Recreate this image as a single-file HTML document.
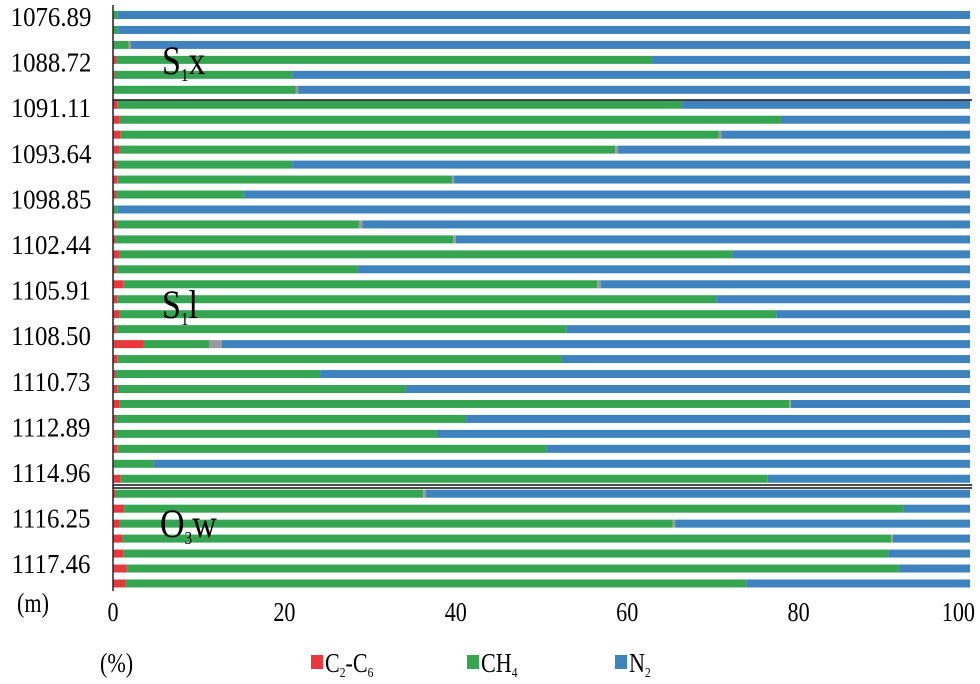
<!DOCTYPE html>
<html><head><meta charset="utf-8"><style>
body{margin:0;background:#fff;}
svg{display:block;font-family:"Liberation Serif",serif;}
</style></head><body>
<svg id="chart" width="980" height="684" viewBox="0 0 980 684" xmlns="http://www.w3.org/2000/svg">
<g id="bars"></g>
<g id="axes"></g>
<g font-family="Liberation Serif,serif">
<text transform="translate(17,612) scale(0.82,1)" font-size="27">(m)</text>
<text transform="translate(100,672) scale(0.82,1)" font-size="27">(%)</text>
<text transform="translate(162,74) scale(0.85,1)" font-size="40">S<tspan font-size="18" dy="7">1</tspan><tspan dy="-7">x</tspan></text>
<text transform="translate(162,318) scale(0.85,1)" font-size="40">S<tspan font-size="18" dy="7">1</tspan><tspan dy="-7">l</tspan></text>
<text transform="translate(160,537) scale(0.85,1)" font-size="40">O<tspan font-size="18" dy="7">3</tspan><tspan dy="-7">w</tspan></text>
<g font-size="27">
<rect x="311" y="655" width="12" height="14" fill="#e8383d"/>
<text transform="translate(325,672) scale(0.82,1)">C<tspan font-size="14" dy="5">2</tspan><tspan dy="-5">-C</tspan><tspan font-size="14" dy="5">6</tspan></text>
<rect x="467" y="655" width="12" height="14" fill="#36a552"/>
<text transform="translate(481,672) scale(0.82,1)">CH<tspan font-size="14" dy="5">4</tspan></text>
<rect x="615" y="655" width="12" height="14" fill="#3e82be"/>
<text transform="translate(629,672) scale(0.82,1)">N<tspan font-size="14" dy="5">2</tspan></text>
</g>
</g>
</svg>
<script>
const c2 = [0,0,0,0.4,0.2,0,0.5,0.8,0.9,0.8,0.4,0.5,0.4,0,0.4,0.3,0.8,0.4,1.2,0.5,0.8,0.4,3.5,0.5,0.3,0.5,0.8,0.3,0.3,0.5,0,0.9,0.3,1.3,0.7,1.1,1.2,1.6,1.4];
const ch4 = [0.5,0.6,1.8,62.5,20.7,21.3,65.9,77.2,69.8,57.8,20.5,39.1,14.9,0.5,28.3,39.4,71.5,28.2,55.3,69.9,76.6,52.5,7.7,51.9,23.9,33.7,78.1,40.9,37.5,50.1,4.7,75.5,35.9,90.9,64.6,89.7,89.3,90.1,72.5];
const other = [0,0,0.3,0,0,0.3,0,0,0.3,0.3,0,0.2,0,0,0.4,0.3,0,0,0.4,0,0,0,1.5,0,0,0,0.2,0,0,0,0,0,0.3,0,0.3,0.2,0,0,0];
const depthLabels = ["1076.89","1088.72","1091.11","1093.64","1098.85","1102.44","1105.91","1108.50","1110.73","1112.89","1114.96","1116.25","1117.46"];
const xTicks = [0,20,40,60,80,100];
const NS="http://www.w3.org/2000/svg";
const x0=113, x1=970, yFirst=15, yStep=14.96, barH=8;
function xs(v){return x0+(x1-x0)*v/100;}
function ys(i){return yFirst+i*yStep;}
function mk(tag,attrs,parent){const e=document.createElementNS(NS,tag);for(const k in attrs)e.setAttribute(k,attrs[k]);parent.appendChild(e);return e;}
const bars=document.getElementById('bars'), axes=document.getElementById('axes');
for(let i=0;i<ch4.length;i++){
  const yc=ys(i)-barH/2;
  let a=0;
  const segs=[[c2[i],'#e8383d','c2'],[ch4[i],'#36a552','ch4'],[other[i],'#9a9a9a','other'],[100-c2[i]-ch4[i]-other[i],'#3e82be','n2']];
  for(const s of segs){
    if(s[0]<=0){continue;}
    const r=mk('rect',{x:xs(a),y:yc,width:xs(a+s[0])-xs(a),height:barH,fill:s[1]},bars);
    
    
    a+=s[0];
  }
}
let l=mk('line',{x1:x0,y1:5,x2:x0,y2:591,stroke:'#222','stroke-width':1.5},axes);


for(const [yy,nm] of [[100,'separator-s1x-s1l'],[485,'separator-s1l-o3w-a'],[488,'separator-s1l-o3w-b']]){
  const s=mk('line',{x1:x0,y1:yy,x2:x1+2,y2:yy,stroke:'#111','stroke-width':1.5},axes);
  
  
}
depthLabels.forEach((t,k)=>{
  const e=mk('text',{transform:'translate(51,'+(26+k*45.6)+') scale(0.92,1)','font-size':27,'text-anchor':'middle'},axes);
  e.textContent=t;
  
  
});
xTicks.forEach((v,k)=>{
  const last=k===xTicks.length-1;
  const px=last?975:xs(v);
  const e=mk('text',{transform:'translate('+px+',621) scale(0.82,1)','font-size':27,'text-anchor':last?'end':'middle'},axes);
  e.textContent=v;
  
  
});
</script>
</body></html>
